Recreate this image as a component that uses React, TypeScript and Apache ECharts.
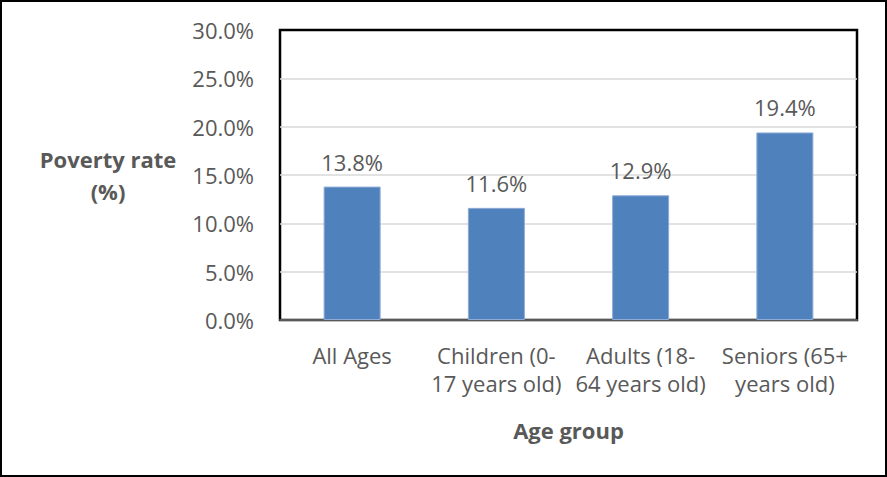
import React, { useEffect, useRef } from "react";
import * as echarts from "echarts";

const categories = [
  "All Ages",
  "Children (0-\n17 years old)",
  "Adults (18-\n64 years old)",
  "Seniors (65+\nyears old)",
];
const povertyRates = [13.8, 11.6, 12.9, 19.4];
const yTicks = { min: 0, max: 30, interval: 5 };

const FONT = "'Open Sans', 'Liberation Sans', sans-serif";
const TEXT = "#595959";
const SIZE = 22;

export default function App() {
  const ref = useRef<HTMLDivElement>(null);

  useEffect(() => {
    if (!ref.current) return;
    const chart = echarts.init(ref.current, null, { renderer: "svg" });
    chart.setOption({
      animation: false,
      backgroundColor: "#fff",
      textStyle: { fontFamily: FONT },
      grid: {
        left: 280,
        right: 30,
        top: 30,
        bottom: 157,
        show: true,
        borderColor: "#000",
        borderWidth: 2.5,
        backgroundColor: "#fff",
      },
      xAxis: {
        type: "category",
        data: categories,
        name: "Age group",
        nameLocation: "middle",
        nameGap: 99,
        nameTextStyle: { fontFamily: FONT, fontSize: SIZE, fontWeight: "bold", color: TEXT },
        axisLine: { show: true, lineStyle: { color: "#595959", width: 2 } },
        axisTick: { show: false },
        axisLabel: {
          fontFamily: FONT,
          fontSize: SIZE,
          color: TEXT,
          lineHeight: 28,
          margin: 21,
          interval: 0,
        },
      },
      yAxis: {
        type: "value",
        min: yTicks.min,
        max: yTicks.max,
        interval: yTicks.interval,
        name: "Poverty rate\n(%)",
        nameLocation: "middle",
        nameRotate: 0,
        nameGap: 172,
        nameTextStyle: {
          fontFamily: FONT,
          fontSize: SIZE,
          fontWeight: "bold",
          color: TEXT,
          lineHeight: 32,
          align: "center",
        },
        axisLine: { show: false },
        axisTick: { show: false },
        splitLine: {
          showMinLine: false,
          showMaxLine: false,
          lineStyle: { color: "#d9d9d9", width: 1.5 },
        },
        axisLabel: {
          fontFamily: FONT,
          fontSize: SIZE,
          color: TEXT,
          margin: 26,
          formatter: (v: number) => v.toFixed(1) + "%",
        },
      },
      series: [
        {
          type: "bar",
          data: povertyRates,
          barWidth: 57,
          itemStyle: { color: "#4f81bd", borderColor: "#8eaad6", borderWidth: 1 },
          label: {
            show: true,
            position: "top",
            distance: 14,
            fontFamily: FONT,
            fontSize: SIZE,
            color: TEXT,
            formatter: (p: any) => Number(p.value).toFixed(1) + "%",
          },
        },
      ],
    });
    return () => chart.dispose();
  }, []);

  return (
    <div style={{ position: "fixed", left: 0, top: 0, width: 887, height: 477, background: "#fff" }}>
      <div ref={ref} style={{ position: "absolute", left: 0, top: 0, width: 887, height: 477 }} />
      <div
        style={{
          position: "absolute",
          left: 0,
          top: 0,
          width: 887,
          height: 477,
          boxSizing: "border-box",
          border: "2px solid #000",
          pointerEvents: "none",
        }}
      />
    </div>
  );
}
